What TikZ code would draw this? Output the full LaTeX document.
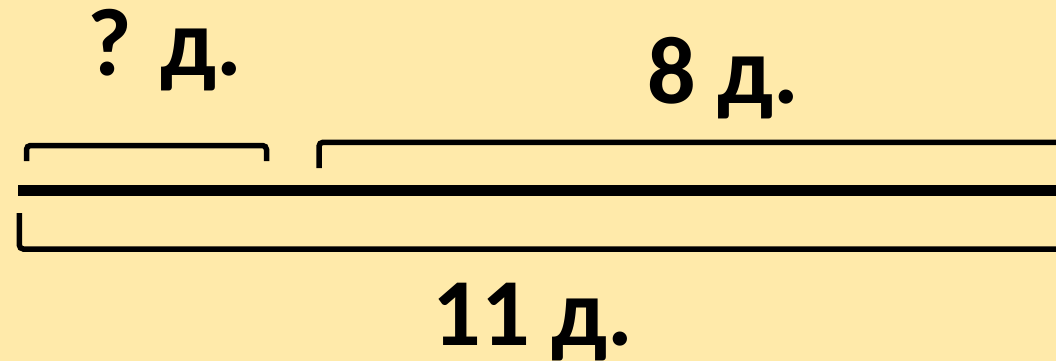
\documentclass[tikz,border=0pt]{standalone}
\usepackage{fontspec}
\setmainfont{Carlito}
\definecolor{bgyellow}{RGB}{255,234,170}
\tikzset{
  bracketline/.style={line width=5.5pt, rounded corners=4pt, line cap=butt},
  mainline/.style={line width=11pt},
  lbl/.style={font=\fontsize{96}{96}\selectfont\bfseries, anchor=base, inner sep=0pt}
}
\begin{document}
\begin{tikzpicture}[x=1pt,y=-1pt]
  \fill[bgyellow] (0,0) rectangle (1056,361);
  \useasboundingbox (0,0) rectangle (1056,361);
  % main segment
  \coordinate (mainL) at (18,190.5);
  \coordinate (mainR) at (1056,190.5);
  \draw[mainline] (mainL) -- (mainR);
  % top-left bracket
  \coordinate (a1) at (26.5,161);
  \coordinate (a2) at (266.5,161);
  \draw[bracketline] (a1) |- (146,145.5) -| (a2);
  % top-right bracket
  \coordinate (b1) at (319,168);
  \coordinate (b2) at (1060,142.3);
  \draw[bracketline] (b1) |- (b2);
  % bottom bracket
  \coordinate (c1) at (19.3,213);
  \coordinate (c2) at (1060,249);
  \draw[bracketline] (c1) |- (c2);
  % labels
  \node[lbl] (q) at (165,75) {? д.};
  \node[lbl] (e) at (723,103) {8 д.};
  \node[lbl] (t) at (533,345) {11 д.};
\end{tikzpicture}
\end{document}
